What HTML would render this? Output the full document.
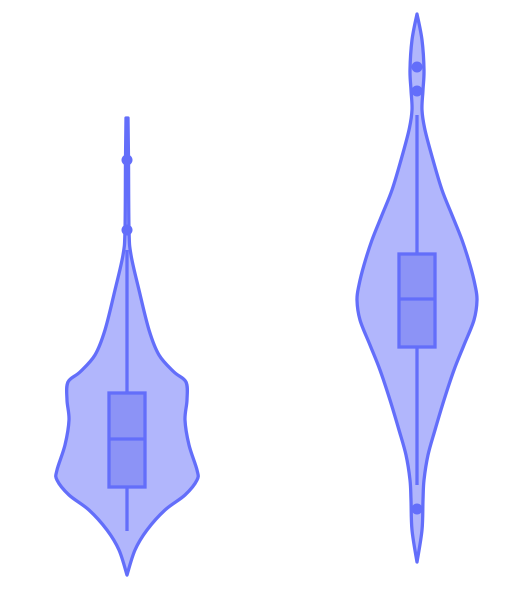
<!DOCTYPE html>
<html><head><meta charset="utf-8">
<style>
html,body{margin:0;padding:0;background:#fff;width:524px;height:596px;overflow:hidden;font-family:"Liberation Sans",sans-serif}
svg{display:block}
</style></head>
<body>
<svg id="chart" width="524" height="596" viewBox="0 0 524 596"></svg>
<script>
// Data values: y-values are in value units (v = 600 - pixel), density = half-width units
const categories = ["trace-a", "trace-b"];
const centersX = [127, 417];
const profileYA = [482, 440, 370, 345, 310, 270, 245, 228, 218, 200, 180, 155, 130, 120, 105, 90, 70, 50, 25];
const profileDA = [1, 1.5, 2, 4, 12, 22, 32, 47, 59, 60, 58, 62, 70, 70, 58, 38, 20, 8, 0];
const profileYB = [586, 560, 530, 510, 490, 470, 440, 410, 385, 360, 335, 315, 300, 280, 255, 230, 200, 170, 145, 120, 100, 70, 38];
const profileDB = [0, 5, 7, 6, 5, 8, 16, 25, 35, 45, 53, 58, 60, 57, 47, 37, 27, 18, 11, 7, 6, 5, 0];
const q1 = [113, 253];
const medians = [161, 301];
const q3 = [207, 346];
const lowerWhisker = [69, 115];
const upperWhisker = [350, 485];
const outliersA = [440, 370];
const outliersB = [533, 509, 91];

const svg = document.getElementById('chart');
const NS = 'http://www.w3.org/2000/svg';
const yScale = v => 600 - v;
const wScale = d => d;
const STROKE = '#636efa';

function smoothPath(pts) {
  let d = 'M' + pts[0][0] + ',' + pts[0][1];
  for (let i = 0; i < pts.length - 1; i++) {
    const p0 = pts[Math.max(0, i - 1)], p1 = pts[i], p2 = pts[i + 1], p3 = pts[Math.min(pts.length - 1, i + 2)];
    const c1x = p1[0] + (p2[0] - p0[0]) / 6, c1y = p1[1] + (p2[1] - p0[1]) / 6;
    const c2x = p2[0] - (p3[0] - p1[0]) / 6, c2y = p2[1] - (p3[1] - p1[1]) / 6;
    d += ' C' + c1x + ',' + c1y + ' ' + c2x + ',' + c2y + ' ' + p2[0] + ',' + p2[1];
  }
  return d;
}

function drawViolin(i, ys, ds, outs) {
  const cx = centersX[i];
  const g = document.createElementNS(NS, 'g');
  
  
  svg.appendChild(g);

  const right = ys.map((v, k) => [cx + wScale(ds[k]), yScale(v)]);
  const left = ys.map((v, k) => [cx - wScale(ds[k]), yScale(v)]).reverse();
  const body = document.createElementNS(NS, 'path');
  
  
  body.setAttribute('d', smoothPath(right) + ' L' + smoothPath(left).slice(1) + ' Z');
  body.setAttribute('fill', 'rgba(99,110,250,0.5)');
  body.setAttribute('stroke', STROKE);
  body.setAttribute('stroke-width', '3.3');
  body.setAttribute('stroke-linejoin', 'round');
  g.appendChild(body);

  const wh = document.createElementNS(NS, 'line');
  
  
  wh.setAttribute('x1', cx); wh.setAttribute('x2', cx);
  wh.setAttribute('y1', yScale(upperWhisker[i])); wh.setAttribute('y2', yScale(lowerWhisker[i]));
  wh.setAttribute('stroke', STROKE); wh.setAttribute('stroke-width', '3.3');
  g.appendChild(wh);

  const box = document.createElementNS(NS, 'rect');
  
  
  box.setAttribute('x', cx - 18); box.setAttribute('width', 36);
  box.setAttribute('y', yScale(q3[i])); box.setAttribute('height', yScale(q1[i]) - yScale(q3[i]));
  box.setAttribute('fill', '#8c93f6'); box.setAttribute('stroke', STROKE); box.setAttribute('stroke-width', '3.3');
  g.appendChild(box);

  const med = document.createElementNS(NS, 'line');
  
  
  med.setAttribute('x1', cx - 18); med.setAttribute('x2', cx + 18);
  med.setAttribute('y1', yScale(medians[i])); med.setAttribute('y2', yScale(medians[i]));
  med.setAttribute('stroke', STROKE); med.setAttribute('stroke-width', '3.3');
  g.appendChild(med);

  outs.forEach(v => {
    const c = document.createElementNS(NS, 'circle');
    
    
    c.setAttribute('cx', cx); c.setAttribute('cy', yScale(v)); c.setAttribute('r', 5.5);
    c.setAttribute('fill', STROKE);
    g.appendChild(c);
  });
}

drawViolin(0, profileYA, profileDA, outliersA);
drawViolin(1, profileYB, profileDB, outliersB);
</script>
</body></html>
